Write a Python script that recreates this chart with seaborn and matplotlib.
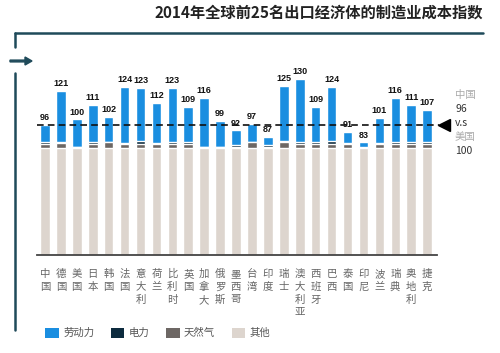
import matplotlib
matplotlib.use("Agg")
import matplotlib.pyplot as plt
import seaborn as sns
import pandas as pd
import numpy as np
from matplotlib.patches import Patch
from matplotlib.lines import Line2D

sns.set_style("white")
plt.rcParams['font.family'] = ['Noto Sans CJK SC', 'DejaVu Sans']

countries = ["中国", "德国", "美国", "日本", "韩国", "法国", "意大利", "荷兰", "比利时", "英国",
             "加拿大", "俄罗斯", "墨西哥", "台湾", "印度", "瑞士", "澳大利亚", "西班牙", "巴西",
             "泰国", "印尼", "波兰", "瑞典", "奥地利", "捷克"]
totals = [96, 121, 100, 111, 102, 124, 123, 112, 123, 109, 116, 99, 92, 97, 87,
          125, 130, 109, 124, 91, 83, 101, 116, 111, 107]
other = [79] * 25
gas = [3.0, 3.5, 0.5, 3.0, 4.0, 3.0, 3.0, 3.0, 3.0, 3.0, 0.5, 0.5, 1.0, 4.0, 1.0,
       4.5, 3.0, 3.0, 3.0, 3.0, 0.3, 3.0, 3.0, 3.0, 3.0]
power = [1.0, 0.5, 0.3, 1.5, 0.5, 0.3, 1.8, 0.3, 1.2, 1.2, 0.3, 0.3, 1.0, 0.3, 1.0,
         0.5, 1.2, 1.2, 1.8, 0.5, 0.3, 0.5, 1.2, 1.2, 1.2]
labor = [t - o - g - p for t, o, g, p in zip(totals, other, gas, power)]
series_names = ["劳动力", "电力", "天然气", "其他"]
china_ref = 96
note_lines = ["中国", "96", "v.s", "美国", "100"]
title = "2014年全球前25名出口经济体的制造业成本指数"

c_labor = "#1a8ee0"
c_power = "#0d2b3e"
c_gas = "#6d6764"
c_other = "#ddd5ce"
c_frame = "#1f4a5a"

df = pd.DataFrame({
    "country": countries,
    "other": other,
    "gas": gas,
    "power": power,
    "labor": labor,
})
df["l_other"] = df["other"]
df["l_gas"] = df["other"] + df["gas"]
df["l_power"] = df["l_gas"] + df["power"]
df["l_labor"] = df["l_power"] + df["labor"]

W, H = 500, 353
fig = plt.figure(figsize=(W / 100, H / 100), dpi=100)
ax = fig.add_axes([37 / W, (H - 255) / H, 400 / W, 183 / H])

for col, color in [("l_labor", c_labor), ("l_power", c_power), ("l_gas", c_gas), ("l_other", c_other)]:
    sns.barplot(data=df, x="country", y=col, order=countries, color=color, saturation=1,
                width=0.6, ax=ax, errorbar=None)

ax.set_xlim(-0.5, 24.62)
ax.set_ylim(0, 135)
ax.bar_label(ax.containers[0], labels=[str(t) for t in totals], padding=2,
             fontsize=6.5, fontweight="bold", color="#111111", family=['Liberation Sans'])

# reference dashed line
ax.plot([-0.5, 24.75], [china_ref, china_ref], linestyle=(0, (4, 2.5)), color="#111111",
        lw=1.2, clip_on=False, zorder=5)
ax.plot([25.05], [china_ref], marker="<", markersize=8.5, color="#000000", clip_on=False)

ax.set_xticks(range(len(countries)))
ax.set_xticklabels(["\n".join(c) for c in countries], fontsize=7.5, color="#666666",
                   linespacing=1.35, va="top")
ax.tick_params(axis="x", length=0, pad=10)
ax.set_yticks([])
ax.set_xlabel("")
ax.set_ylabel("")
for s in ["top", "right", "left"]:
    ax.spines[s].set_visible(False)
ax.spines["bottom"].set_color("#444444")
ax.spines["bottom"].set_linewidth(1.3)

# right annotation
note_colors = ["#aaaaaa", "#333333", "#333333", "#aaaaaa", "#333333"]
note_y = [95, 109, 123, 137, 151]
for txt, c, y in zip(note_lines, note_colors, note_y):
    fig.text(455 / W, 1 - y / H, txt, fontsize=7.5, style="italic", color=c,
             ha="left", va="center")

# title
fig.text(483 / W, 1 - 13 / H, title, fontsize=11, fontweight="bold", color="#222222",
         ha="right", va="center")

# frame lines
fig.add_artist(Line2D([15 / W, 483 / W], [1 - 33 / H, 1 - 33 / H], color=c_frame, lw=1.8))
fig.add_artist(Line2D([15 / W, 15 / W], [1 - 33 / H, 1 - 47 / H], color=c_frame, lw=1.8))
fig.add_artist(Line2D([15 / W, 15 / W], [1 - 73 / H, 1 - 330 / H], color=c_frame, lw=1.8))
fig.patches.append(matplotlib.patches.FancyArrow(
    10 / W, 1 - 61 / H, 22 / W, 0, width=1.8 / H, head_width=8 / H, head_length=7 / W,
    length_includes_head=True, color=c_frame, transform=fig.transFigure, figure=fig))

# legend
handles = [Patch(facecolor=c, edgecolor="none") for c in [c_labor, c_power, c_gas, c_other]]
fig.legend(handles, series_names, loc="center left", bbox_to_anchor=(36 / W, 1 - 333 / H),
           ncol=4, frameon=False, fontsize=7.5, handlelength=1.3, handleheight=1.1,
           handletextpad=0.4, columnspacing=1.6, labelcolor="#555555")

fig.savefig("out.png", dpi=100)
